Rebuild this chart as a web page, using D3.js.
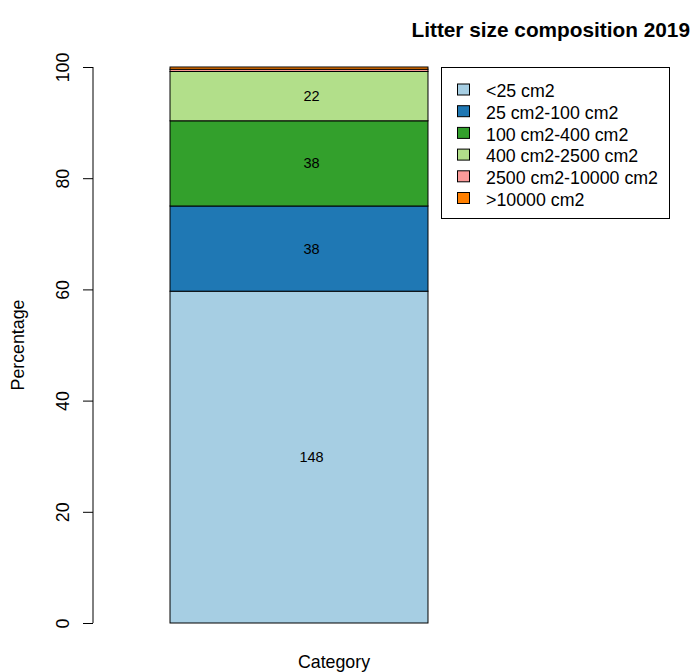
<!DOCTYPE html>
<html>
<head>
<meta charset="utf-8">
<script src="https://cdn.jsdelivr.net/npm/d3@7"></script>
<style>
  body { margin: 0; background: #fff; }
  svg { font-family: "Liberation Sans", Arial, sans-serif; }
</style>
</head>
<body>
<div id="chart"></div>
<script>
// litter size composition, one stacked bar
const sizeClasses = ["<25 cm2", "25 cm2-100 cm2", "100 cm2-400 cm2", "400 cm2-2500 cm2", "2500 cm2-10000 cm2", ">10000 cm2"];
const counts = [148, 38, 38, 22, 1, 1];
const colors = ["#A6CEE3", "#1F78B4", "#33A02C", "#B2DF8A", "#FB9A99", "#FF7F00"];
const yTicks = [0, 20, 40, 60, 80, 100];
const category = ["Category"];

const width = 692, height = 672;
const base = 17.8;

const svg = d3.select("#chart")
  .append("svg")
  .attr("width", width)
  .attr("height", height);

const total = d3.sum(counts);
let acc = 0;
const segs = counts.map((c, i) => {
  const s = { key: sizeClasses[i], n: c, y0: acc / total * 100, y1: (acc + c) / total * 100, color: colors[i] };
  acc += c;
  return s;
});

const y = d3.scaleLinear().domain([0, 100]).range([623, 67]);
const x = d3.scaleBand().domain(category).range([93, 505]).paddingInner(0).paddingOuter(0.2985);

// y axis (R style)
const yAxis = svg.append("g")
  .attr("transform", "translate(93,0)")
  .call(d3.axisLeft(y).tickValues(yTicks).tickSize(10).tickSizeOuter(0));
yAxis.select(".domain").attr("stroke", "#000").attr("d", `M0,${y(0)}V${y(100)}`);
yAxis.selectAll(".tick line").attr("stroke", "#000");
yAxis.selectAll(".tick text")
  .attr("x", null).attr("y", null).attr("dy", "0.35em")
  .attr("font-size", base)
  .attr("fill", "#000")
  .attr("text-anchor", "middle")
  .attr("transform", "translate(-30.5,0) rotate(-90)");

// stacked bar
const bx = x("Category"), bw = x.bandwidth();
svg.append("g")
  .selectAll("rect")
  .data(segs)
  .enter().append("rect")
  .attr("x", bx)
  .attr("y", d => y(d.y1))
  .attr("width", bw)
  .attr("height", d => y(d.y0) - y(d.y1))
  .attr("fill", d => d.color)
  .attr("stroke", "#000")
  .attr("stroke-width", 1);

// count labels inside larger segments
svg.append("g")
  .selectAll("text")
  .data(segs.filter(d => d.y1 - d.y0 > 2))
  .enter().append("text")
  .attr("x", bx + bw / 2 + 12.5)
  .attr("y", d => y((d.y0 + d.y1) / 2))
  .attr("dy", "0.35em")
  .attr("text-anchor", "middle")
  .attr("font-size", 14.5)
  .text(d => d.n);

// title
svg.append("text")
  .attr("x", 690)
  .attr("y", 37)
  .attr("text-anchor", "end")
  .attr("font-weight", "bold")
  .attr("font-size", 20.8)
  .text("Litter size composition 2019");

// axis labels
svg.append("text")
  .attr("transform", "translate(18,345) rotate(-90)")
  .attr("dy", "0.35em")
  .attr("text-anchor", "middle")
  .attr("font-size", base)
  .text("Percentage");

svg.append("text")
  .attr("x", 334)
  .attr("y", 668)
  .attr("text-anchor", "middle")
  .attr("font-size", base)
  .text("Category");

// legend
const legend = svg.append("g");
legend.append("rect")
  .attr("x", 441.5).attr("y", 67.5)
  .attr("width", 228).attr("height", 151)
  .attr("fill", "#fff").attr("stroke", "#000");

const rows = legend.selectAll(".legend")
  .data(segs)
  .enter().append("g")
  .attr("class", "legend")
  .attr("transform", (d, i) => `translate(0,${90 + i * 21.7})`);

rows.append("rect")
  .attr("x", 457.5).attr("y", -6)
  .attr("width", 12).attr("height", 11)
  .attr("fill", d => d.color)
  .attr("stroke", "#000");

rows.append("text")
  .attr("x", 486)
  .attr("y", 1)
  .attr("dy", "0.35em")
  .attr("font-size", base)
  .text(d => d.key);
</script>
</body>
</html>
